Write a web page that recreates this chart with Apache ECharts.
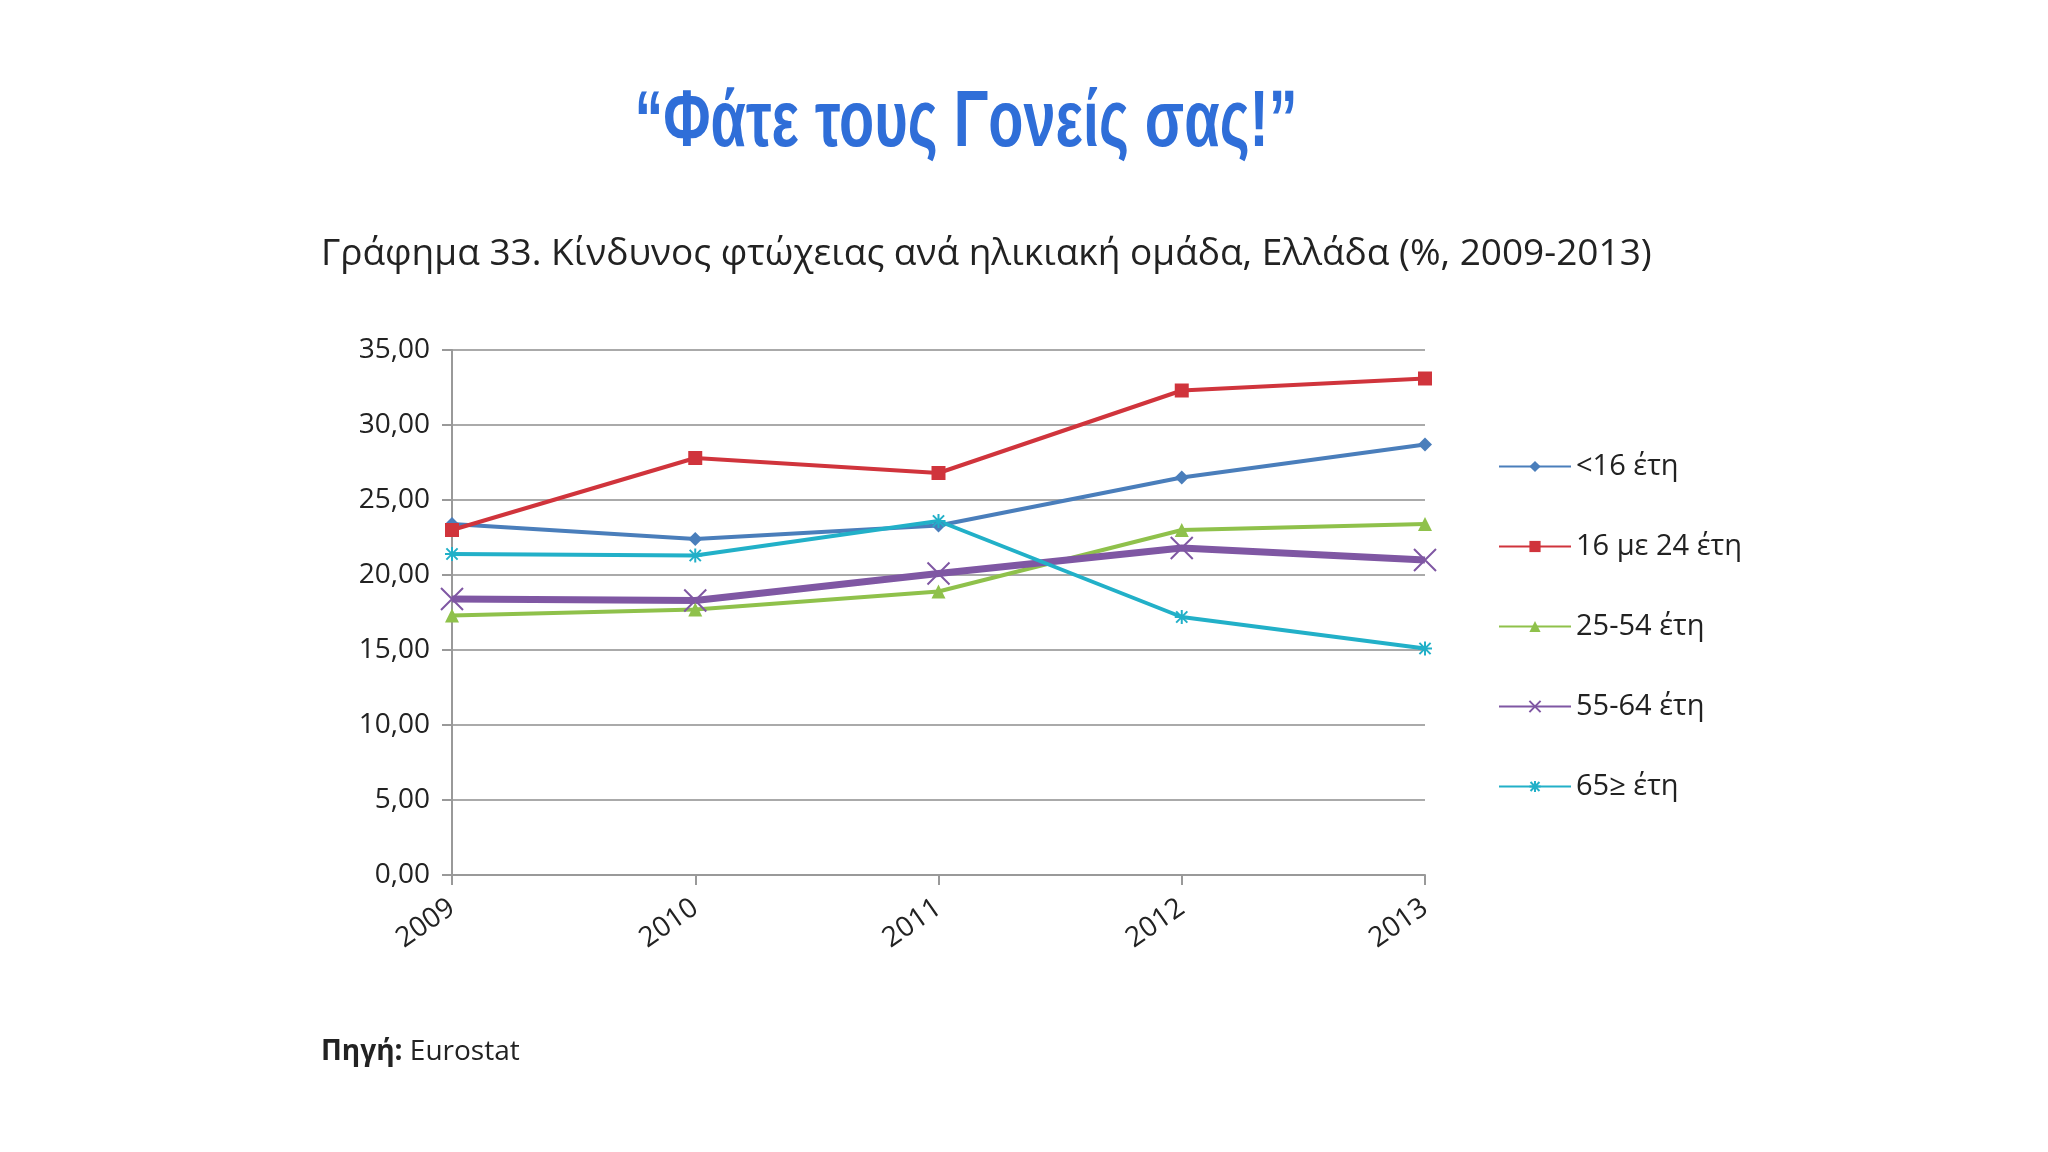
<!DOCTYPE html><html><head><meta charset="utf-8">
<script src="https://cdn.jsdelivr.net/npm/echarts@6/dist/echarts.min.js"></script>
<style>html,body{margin:0;background:#fff}#c{width:2048px;height:1152px}</style></head><body><div id="c"></div>
<script>
const years=['2009','2010','2011','2012','2013'];
const under16=[23.4,22.4,23.3,26.5,28.7];
const age16to24=[23.0,27.8,26.8,32.3,33.1];
const age25to54=[17.3,17.7,18.9,23.0,23.4];
const age55to64=[18.4,18.3,20.1,21.8,21.0];
const age65plus=[21.4,21.3,23.6,17.2,15.1];
const names=['<16 έτη','16 με 24 έτη','25-54 έτη','55-64 έτη','65≥ έτη'];
const colors=['#4a7ebb','#d0343c','#8fc14b','#7f57a3','#22b0c8'];
const sym=['diamond','rect','triangle','path://M0,0L10,10M10,0L0,10','path://M5,0L5,10M0,5L10,5M1,1L9,9M9,1L1,9'];
const datas=[under16,age16to24,age25to54,age55to64,age65plus];
const f='"Open Sans","Noto Sans",sans-serif';
const chart=echarts.init(document.getElementById('c'));
chart.setOption({
 animation:false,
 graphic:[{type:'text',x:966,y:124,scaleX:0.72,style:{text:'“Φάτε τους Γονείς σας!”',font:'bold 80px "Liberation Sans"',fill:'#2f6ed8',align:'center',verticalAlign:'middle'}}],
 title:[{text:'Γράφημα 33. Κίνδυνος φτώχειας ανά ηλικιακή ομάδα, Ελλάδα (%, 2009-2013)',left:316,top:231,textStyle:{fontFamily:f,fontWeight:'normal',fontSize:37,color:'#222'}},
  {text:'{b|Πηγή:} Eurostat',left:316,top:1033,textStyle:{fontFamily:f,fontWeight:'normal',fontSize:28,color:'#222',rich:{b:{fontFamily:f,fontWeight:'bold',fontSize:28,color:'#222'}}}}],
 grid:{left:452,right:2048-1425,top:350,bottom:1152-875},
 legend:{orient:'vertical',left:1493,top:447,itemGap:51,itemWidth:72,itemHeight:14,textStyle:{fontFamily:f,fontSize:29,color:'#222'},data:names},
 xAxis:{type:'category',data:years,boundaryGap:false,axisLine:{lineStyle:{color:'#999',width:2}},axisTick:{alignWithLabel:true,length:10,lineStyle:{color:'#999',width:2}},
  axisLabel:{rotate:35,fontFamily:f,fontSize:28,color:'#222',margin:30}},
 yAxis:{type:'value',min:0,max:35,interval:5,axisLine:{show:true,lineStyle:{color:'#999',width:2}},axisTick:{show:true,length:10,lineStyle:{color:'#999',width:2}},
  splitLine:{lineStyle:{color:'#aaa',width:2}},axisLabel:{fontFamily:f,fontSize:28,color:'#222',margin:22,formatter:v=>v.toFixed(2).replace('.',',')}},
 series:datas.map((d,i)=>({name:names[i],type:'line',data:d,color:colors[i],symbol:sym[i],symbolSize:i==3?22:14,
  lineStyle:{width:i==3?7:4},itemStyle:{color:colors[i],borderColor:colors[i],borderWidth:i>=3?2:0}}))
});
</script></body></html>
